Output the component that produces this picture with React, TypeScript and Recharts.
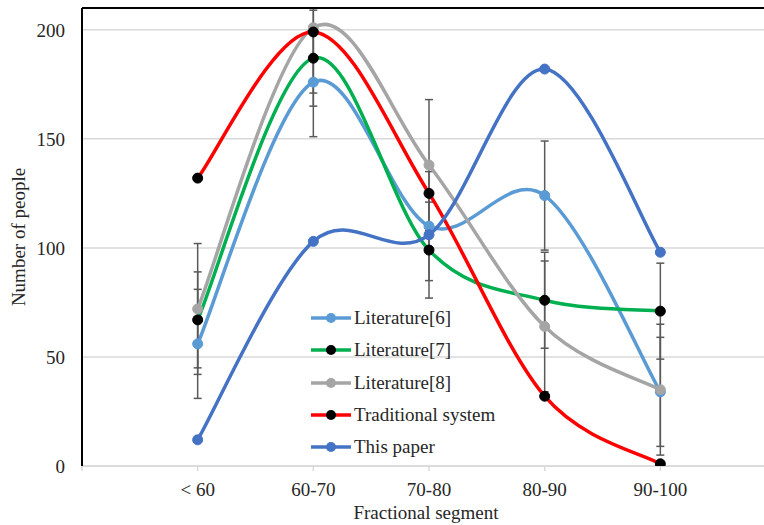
import React from 'react';
import { ComposedChart, Line, XAxis, YAxis, CartesianGrid, ErrorBar, Legend, ReferenceLine, Label } from 'recharts';

const categories = ['< 60', '60-70', '70-80', '80-90', '90-100'];
const literature6 = [56, 176, 110, 124, 34];
const literature7 = [67, 187, 99, 76, 71];
const literature8 = [72, 201, 138, 64, 35];
const traditional = [132, 199, 125, 32, 1];
const thisPaper = [12, 103, 106, 182, 98];
const err6 = [25, 25, 25, 25, 25];
const err7 = [22, 22, 22, 22, 22];
const err8 = [30, 30, 30, 30, 30];
const yTicks = [0, 50, 100, 150, 200];
const xTicks = [-1, 0, 1, 2, 3, 4, 5];
const Y_MAX = 210;

const FONT = "'Liberation Serif', 'Times New Roman', serif";
const TEXT = '#262626';

const series = [
  { key: 'lit6', name: 'Literature[6]', stroke: '#5B9BD5', dot: '#5B9BD5', err: 'e6' },
  { key: 'lit7', name: 'Literature[7]', stroke: '#00B050', dot: '#000000', err: 'e7' },
  { key: 'lit8', name: 'Literature[8]', stroke: '#A5A5A5', dot: '#A5A5A5', err: 'e8' },
  { key: 'trad', name: 'Traditional system', stroke: '#FF0000', dot: '#000000', err: null },
  { key: 'paper', name: 'This paper', stroke: '#4472C4', dot: '#4472C4', err: null },
];

// error bar [minus, plus], with the plus side clipped at the top of the plot like the original
const clipErr = (v: number, e: number) => [e, Math.min(e, Y_MAX - v)];

const data = categories.map((c, i) => ({
  x: i,
  lit6: literature6[i],
  lit7: literature7[i],
  lit8: literature8[i],
  trad: traditional[i],
  paper: thisPaper[i],
  e6: clipErr(literature6[i], err6[i]),
  e7: clipErr(literature7[i], err7[i]),
  e8: clipErr(literature8[i], err8[i]),
}));

// Excel-like smoothed line (Catmull-Rom through the points)
const excelCurve = (context: any) => {
  let pts: [number, number][] = [];
  return {
    areaStart() {},
    areaEnd() {},
    lineStart() {
      pts = [];
    },
    point(x: number, y: number) {
      pts.push([+x, +y]);
    },
    lineEnd() {
      const n = pts.length;
      if (!n) return;
      context.moveTo(pts[0][0], pts[0][1]);
      for (let i = 0; i < n - 1; i++) {
        const p0 = pts[i - 1] || pts[i];
        const p1 = pts[i];
        const p2 = pts[i + 1];
        const p3 = pts[i + 2] || p2;
        const c1x = p1[0] + (p2[0] - p0[0]) / 6;
        const c1y = p1[1] + (p2[1] - p0[1]) / 6;
        const c2x = p2[0] - (p3[0] - p1[0]) / 6;
        const c2y = p2[1] - (p3[1] - p1[1]) / 6;
        context.bezierCurveTo(c1x, c1y, c2x, c2y, p2[0], p2[1]);
      }
    },
  };
};

const renderLegend = () => (
  <div style={{ fontFamily: FONT, fontSize: 19, color: TEXT }}>
    {series.map((s) => (
      <div key={s.key} style={{ height: 32.3, display: 'flex', alignItems: 'center', whiteSpace: 'nowrap' }}>
        <svg width={42} height={14} style={{ marginRight: 2 }}>
          <line x1={1} y1={7} x2={41} y2={7} stroke={s.stroke} strokeWidth={3.5} />
          <circle cx={21} cy={7} r={5} fill={s.dot} />
        </svg>
        <span>{s.name}</span>
      </div>
    ))}
  </div>
);

export default function App() {
  return (
    <div style={{ position: 'absolute', left: 0, top: 0, width: 764, height: 525, overflow: 'hidden', background: '#fff' }}>
      <ComposedChart width={790} height={525} data={data} margin={{ top: 8, right: 14, bottom: 0, left: 22 }}>
        <CartesianGrid vertical={false} stroke="#D9D9D9" strokeWidth={1.5} />
        <XAxis
          type="number"
          dataKey="x"
          domain={[-1, 5]}
          ticks={xTicks}
          interval={0}
          height={59}
          tickFormatter={(v: number) => categories[v] ?? ''}
          axisLine={{ stroke: '#D9D9D9', strokeWidth: 1.5 }}
          tickLine={{ stroke: '#D9D9D9', strokeWidth: 1.5 }}
          tickSize={5}
          tickMargin={12}
          tick={{ fontSize: 19, fontFamily: FONT, fill: TEXT }}
        >
          <Label
            content={() => (
              <text x={426} y={519} textAnchor="middle" fontSize={19} fontFamily={FONT} fill={TEXT}>
                Fractional segment
              </text>
            )}
          />
        </XAxis>
        <YAxis
          type="number"
          domain={[0, Y_MAX]}
          ticks={yTicks}
          allowDataOverflow
          width={60}
          axisLine={{ stroke: '#000', strokeWidth: 2 }}
          tickLine={false}
          tickSize={0}
          tickMargin={17}
          tick={{ fontSize: 19, fontFamily: FONT, fill: TEXT }}
        >
          <Label
            content={() => (
              <text
                x={18}
                y={237}
                transform="rotate(-90 18 237)"
                textAnchor="middle"
                dominantBaseline="central"
                fontSize={19}
                fontFamily={FONT}
                fill={TEXT}
              >
                Number of people
              </text>
            )}
          />
        </YAxis>
        {series.map((s) => (
          <Line
            key={s.key}
            dataKey={s.key}
            name={s.name}
            type={excelCurve as any}
            stroke={s.stroke}
            strokeWidth={3.5}
            dot={{ r: 5, fill: s.dot, stroke: s.dot, strokeWidth: 1 }}
            activeDot={false}
            isAnimationActive={false}
          >
            {s.err ? (
              <ErrorBar dataKey={s.err} direction="y" width={4} stroke="#595959" strokeWidth={1.5} />
            ) : null}
          </Line>
        ))}
        <ReferenceLine y={Y_MAX} stroke="#000" strokeWidth={2} />
        <Legend
          content={renderLegend}
          layout="vertical"
          align="center"
          verticalAlign="middle"
          wrapperStyle={{ left: 310, top: 302, width: 220, height: 165 }}
        />
      </ComposedChart>
    </div>
  );
}
